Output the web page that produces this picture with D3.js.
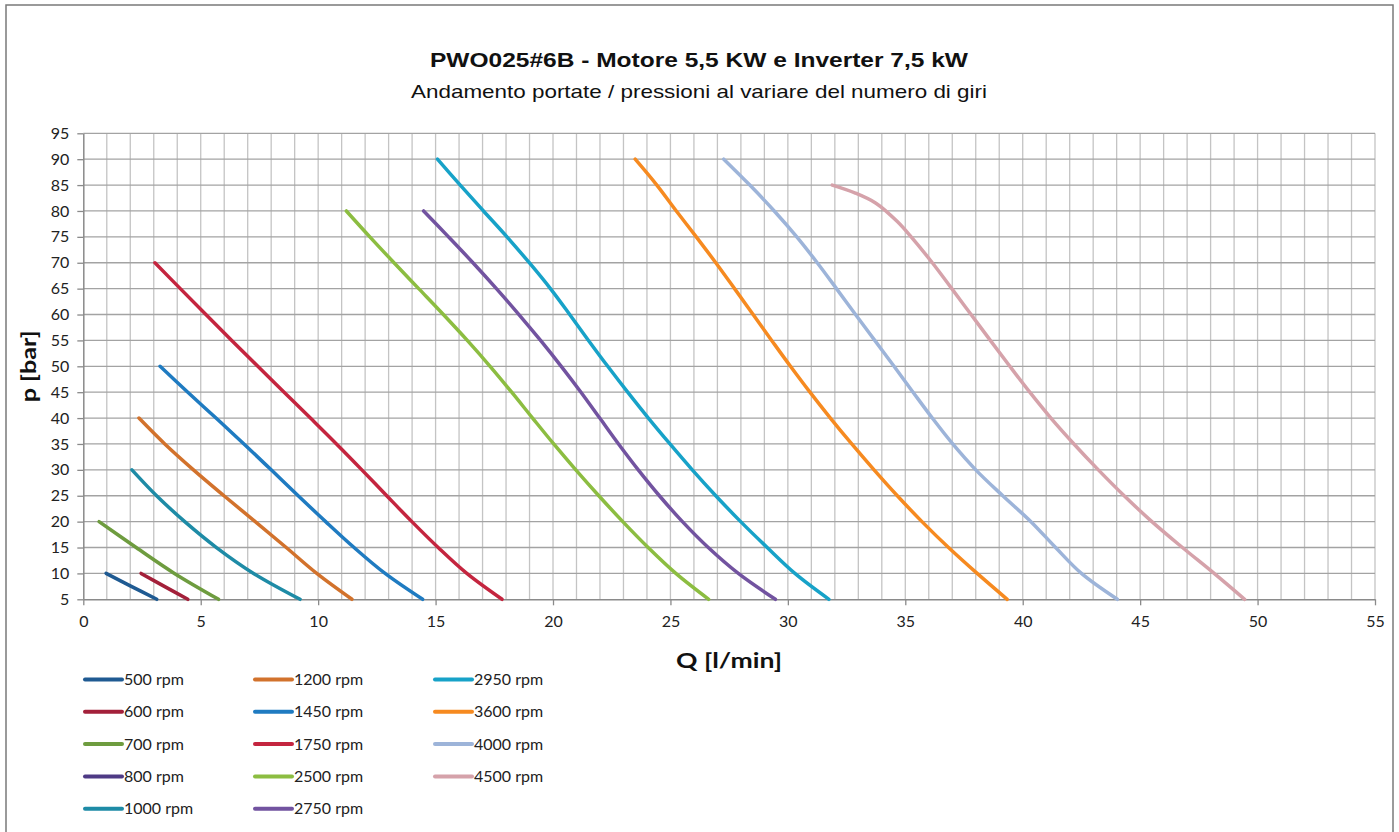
<!DOCTYPE html>
<html>
<head>
<meta charset="utf-8">
<script src="https://cdn.jsdelivr.net/npm/d3@7"></script>
<style>
  html, body { margin: 0; padding: 0; background: #fff; }
  svg { display: block; }
</style>
</head>
<body>
<div id="chart"></div>
<script>
// series names, in legend order (column by column)
const seriesNames = ["500 rpm", "600 rpm", "700 rpm", "800 rpm", "1000 rpm",
                     "1200 rpm", "1450 rpm", "1750 rpm", "2500 rpm", "2750 rpm",
                     "2950 rpm", "3600 rpm", "4000 rpm", "4500 rpm"];

const seriesColors = ["#1f5a92", "#a3203a", "#6e9c3f", "#4e3a85", "#1e8ba6",
                      "#d2722c", "#1f7bc1", "#c4253f", "#8cbd41", "#7253a0",
                      "#17a2c8", "#f68a20", "#9db4d9", "#d5a2aa"];

// [Q l/min, p bar]
const q500  = [[0.97, 10], [2.0, 7.6], [3.13, 5]];
const q600  = [[2.46, 10], [3.45, 7.5], [4.45, 5]];
const q700  = [[0.67, 20], [2.25, 15], [3.88, 10], [5.76, 5]];
const q800  = [];
const q1000 = [[2.07, 30], [3.12, 25], [4.32, 20], [5.67, 15], [7.25, 10], [9.23, 5]];
const q1200 = [[2.37, 40], [3.47, 35], [4.69, 30], [5.99, 25], [7.32, 20], [8.64, 15], [9.94, 10], [11.44, 5]];
const q1450 = [[3.27, 50], [4.45, 45], [5.65, 40], [6.84, 35], [8.0, 30], [9.15, 25], [10.32, 20], [11.53, 15], [12.85, 10], [14.45, 5]];
const q1750 = [[3.05, 70], [4.13, 65], [5.22, 60], [6.32, 55], [7.43, 50], [8.55, 45], [9.67, 40], [10.78, 35],
               [11.86, 30], [12.92, 25], [13.99, 20], [15.11, 15], [16.33, 10], [17.83, 5]];
const q2500 = [[11.2, 80], [12.2, 75], [13.23, 70], [14.28, 65], [15.33, 60], [16.35, 55], [17.32, 50], [18.24, 45],
               [19.13, 40], [20.03, 35], [20.97, 30], [21.95, 25], [22.97, 20], [24.05, 15], [25.23, 10], [26.63, 5]];
const q2750 = [[14.49, 80], [15.55, 75], [16.59, 70], [17.59, 65], [18.55, 60], [19.47, 55], [20.35, 50], [21.19, 45],
               [21.99, 40], [22.79, 35], [23.63, 30], [24.53, 25], [25.51, 20], [26.61, 15], [27.89, 10], [29.47, 5]];
const q2950 = [[15.08, 90], [16.05, 85], [17.04, 80], [18.04, 75], [18.99, 70], [19.89, 65], [20.71, 60], [21.51, 55],
               [22.33, 50], [23.18, 45], [24.06, 40], [24.98, 35], [25.93, 30], [26.93, 25], [27.99, 20], [29.12, 15],
               [30.3, 10], [31.75, 5]];
const q3600 = [[23.5, 90], [24.42, 85], [25.25, 80], [26.1, 75], [26.93, 70], [27.73, 65], [28.52, 60], [29.31, 55],
               [30.11, 50], [30.94, 45], [31.81, 40], [32.72, 35], [33.67, 30], [34.66, 25], [35.71, 20], [36.84, 15],
               [38.06, 10], [39.34, 5]];
const q4000 = [[27.27, 90], [28.38, 85], [29.42, 80], [30.38, 75], [31.25, 70], [32.07, 65], [32.88, 60], [33.7, 55],
               [34.52, 50], [35.33, 45], [36.15, 40], [37.02, 35], [38.0, 30], [39.15, 25], [40.35, 20], [41.4, 15],
               [42.5, 10], [44.03, 5]];
const q4500 = [[31.89, 85], [32.85, 83.5], [33.75, 81.5], [34.65, 78], [35.25, 75], [36.15, 70], [36.98, 65], [37.8, 60],
               [38.62, 55], [39.45, 50], [40.3, 45], [41.2, 40], [42.18, 35], [43.22, 30], [44.32, 25], [45.5, 20],
               [46.8, 15], [48.15, 10], [49.45, 5]];

const seriesData = [q500, q600, q700, q800, q1000, q1200, q1450, q1750, q2500, q2750, q2950, q3600, q4000, q4500];

const xTicks = d3.range(0, 56, 5);
const yTicks = d3.range(5, 96, 5);

const W = 1399, H = 832;
const svg = d3.select("#chart").append("svg")
    .attr("width", W)
    .attr("height", H);

// outer frame
svg.append("rect")
    .attr("x", 6).attr("y", 5)
    .attr("width", 1387).attr("height", 850)
    .attr("fill", "#fff")
    .attr("stroke", "#7a7a7a")
    .attr("stroke-width", 1.5);

const x = d3.scaleLinear().domain([0, 55]).range([83.3, 1375]);
const y = d3.scaleLinear().domain([5, 95]).range([599.3, 133.3]);

// grid
svg.append("g").selectAll("line")
    .data(d3.range(1, 56, 1))
    .join("line")
    .attr("x1", d => x(d)).attr("x2", d => x(d))
    .attr("y1", y(95)).attr("y2", y(5))
    .attr("stroke", "#c4c4c4")
    .attr("stroke-width", 1.3);

svg.append("g").selectAll("line")
    .data(yTicks.slice(1))
    .join("line")
    .attr("x1", x(0)).attr("x2", x(55))
    .attr("y1", d => y(d)).attr("y2", d => y(d))
    .attr("stroke", "#a3a3a3")
    .attr("stroke-width", 1.3);

// axes
const xAxis = svg.append("g")
    .attr("transform", `translate(0,${y(5)})`)
    .call(d3.axisBottom(x).tickValues(xTicks).tickSize(6).tickPadding(10).tickSizeOuter(0));

const yAxis = svg.append("g")
    .attr("transform", `translate(${x(0)},0)`)
    .call(d3.axisLeft(y).tickValues(yTicks).tickSize(6).tickPadding(8).tickSizeOuter(0));

[xAxis, yAxis].forEach(a => {
    a.select(".domain").attr("stroke", "#8a8a8a").attr("stroke-width", 1.5);
    a.selectAll(".tick line").attr("stroke", "#8a8a8a").attr("stroke-width", 1.3);
    a.selectAll("text")
        .style("font-family", "Lato")
        .style("font-size", "16px")
        .attr("fill", "#222");
});

// curves
const line = d3.line()
    .x(d => x(d[0]))
    .y(d => y(d[1]))
    .curve(d3.curveCatmullRom.alpha(0.5));

svg.append("g").selectAll("path")
    .data(seriesData)
    .join("path")
    .attr("d", d => d.length ? line(d) : null)
    .attr("fill", "none")
    .attr("stroke", (d, i) => seriesColors[i])
    .attr("stroke-width", 3.5)
    .attr("stroke-linecap", "round");

// titles
svg.append("text")
    .attr("x", 699).attr("y", 67)
    .attr("text-anchor", "middle")
    .attr("textLength", 538)
    .attr("lengthAdjust", "spacingAndGlyphs")
    .style("font-family", "Liberation Sans")
    .style("font-weight", "bold")
    .style("font-size", "21px")
    .attr("fill", "#111")
    .text("PWO025#6B - Motore 5,5 KW e Inverter 7,5 kW");

svg.append("text")
    .attr("x", 699).attr("y", 98)
    .attr("text-anchor", "middle")
    .attr("textLength", 576)
    .attr("lengthAdjust", "spacingAndGlyphs")
    .style("font-family", "Liberation Sans")
    .style("font-size", "19px")
    .attr("fill", "#111")
    .text("Andamento portate / pressioni al variare del numero di giri");

svg.append("text")
    .attr("transform", `translate(36,${(y(5) + y(95)) / 2}) rotate(-90)`)
    .attr("text-anchor", "middle")
    .attr("textLength", 72)
    .attr("lengthAdjust", "spacingAndGlyphs")
    .style("font-family", "Lato")
    .style("font-weight", "bold")
    .style("font-size", "21px")
    .attr("fill", "#111")
    .text("p [bar]");

svg.append("text")
    .attr("x", 729).attr("y", 668)
    .attr("text-anchor", "middle")
    .attr("textLength", 106)
    .attr("lengthAdjust", "spacingAndGlyphs")
    .style("font-family", "Lato")
    .style("font-weight", "bold")
    .style("font-size", "21px")
    .attr("fill", "#111")
    .text("Q [l/min]");

// legend, 5 rows per column
const legendX = [85, 255, 435];
const legendY0 = 679.5, legendDY = 32.3;

const legend = svg.append("g").selectAll("g")
    .data(seriesNames)
    .join("g")
    .attr("transform", (d, i) => `translate(${legendX[Math.floor(i / 5)]},${legendY0 + (i % 5) * legendDY})`);

legend.append("line")
    .attr("x1", 0).attr("x2", 37)
    .attr("stroke", (d, i) => seriesColors[i])
    .attr("stroke-width", 4)
    .attr("stroke-linecap", "round");

legend.append("text")
    .attr("x", 39).attr("y", 5.5)
    .style("font-family", "Lato")
    .style("font-size", "16px")
    .attr("fill", "#222")
    .text(d => d);
</script>
</body>
</html>
